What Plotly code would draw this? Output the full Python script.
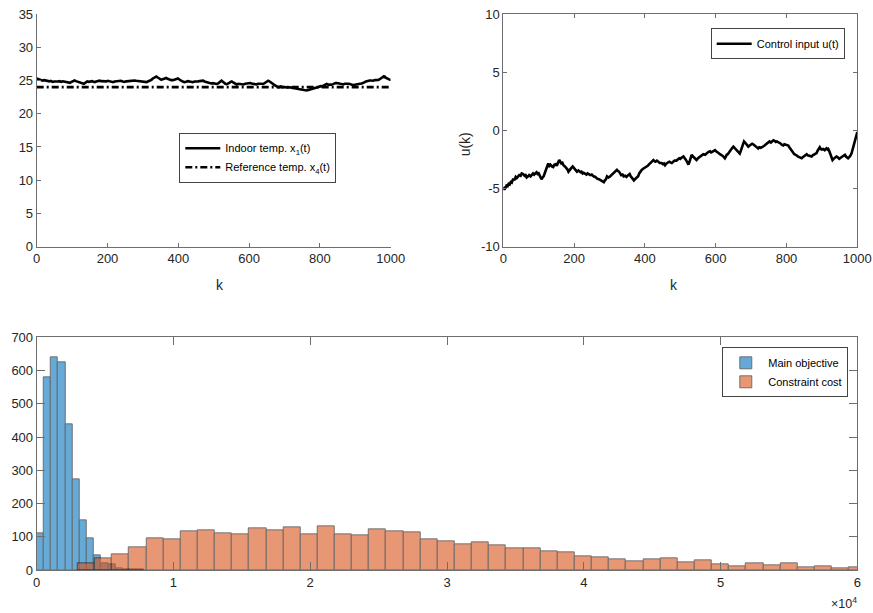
import plotly.graph_objects as go

# ---------------- data ----------------
k_temp = [0,4,8,12,17,21,26,31,36,40,45,50,55,60,64,69,74,79,84,89,94,97,100,104,107,111,114,118,122,126,
          129,133,136,140,143,147,150,154,157,161,164,168,171,175,178,182,187,192,197,201,206,211,216,220,225,
          229,234,238,243,248,253,257,262,267,272,276,281,286,291,295,300,305,310,314,317,321,324,328,331,335,
          338,342,345,349,352,356,359,363,366,370,375,380,385,389,392,396,399,403,406,410,413,417,422,427,432,
          436,441,446,451,455,460,465,470,474,479,484,489,493,498,503,508,512,515,519,522,526,530,533,537,540,
          544,548,551,555,558,562,565,570,575,580,584,589,594,598,603,607,612,616,621,625,630,635,640,644,647,
          651,654,658,661,665,668,672,676,680,683,687,690,694,697,701,706,711,716,720,725,730,735,740,746,752,
          758,762,765,769,772,777,782,786,791,795,798,802,805,809,812,816,819,823,826,830,833,837,840,844,848,
          852,857,861,866,870,875,880,885,889,894,899,904,908,913,918,923,927,930,934,937,941,944,948,951,955,
          958,962,965,968,970,973,975,978,980,982,984,987,990,993,995,998,1000]
indoor_temp = [25.3,25.2,25.15,25.05,24.97,25.05,25.0,24.9,24.87,24.95,24.8,24.85,24.8,24.85,24.9,24.8,24.87,24.8,24.75,24.7,
               24.65,24.75,24.85,24.95,25.0,24.9,24.85,24.8,24.75,24.6,24.55,24.5,24.6,24.75,24.85,24.8,24.85,24.95,24.9,24.8,
               24.75,24.85,24.9,25.0,24.97,24.9,24.9,24.8,24.87,24.95,24.85,24.8,24.75,24.85,24.9,24.95,25.0,24.95,24.85,24.8,
               24.87,24.9,24.95,25.0,25.07,25.0,24.95,24.9,24.87,24.8,24.8,24.7,24.75,24.85,24.9,25.0,25.1,25.3,25.4,25.55,
               25.6,25.45,25.3,25.2,25.1,25.2,25.25,25.3,25.37,25.25,25.1,25.05,25.05,25.15,25.2,25.3,25.3,25.15,25.0,24.9,
               24.85,24.75,24.8,24.9,24.85,24.8,24.75,24.85,24.8,24.85,24.9,24.95,24.97,24.85,24.75,24.7,24.65,24.55,24.6,24.5,
               24.47,24.55,24.7,24.85,24.97,24.8,24.6,24.5,24.45,24.5,24.65,24.8,24.85,24.7,24.6,24.5,24.4,24.5,24.45,24.35,
               24.4,24.5,24.55,24.5,24.62,24.55,24.5,24.45,24.4,24.5,24.55,24.5,24.47,24.6,24.7,24.85,24.97,24.85,24.7,24.55,
               24.47,24.3,24.2,24.05,23.97,24.05,24.1,24.0,24.05,24.0,23.95,24.0,23.97,23.9,23.85,23.8,23.77,23.7,23.6,23.5,
               23.45,23.5,23.55,23.6,23.62,23.75,23.85,23.9,23.97,24.0,24.05,24.15,24.1,24.2,24.3,24.4,24.47,24.4,24.35,24.4,
               24.37,24.45,24.55,24.6,24.62,24.55,24.45,24.4,24.4,24.5,24.55,24.5,24.47,24.4,24.3,24.35,24.37,24.45,24.5,24.55,
               24.62,24.75,24.85,24.95,24.97,25.0,25.0,24.95,24.97,25.05,25.05,25.0,25.07,25.15,25.25,25.35,25.47,25.55,25.6,25.5,
               25.55,25.4,25.3,25.2,25.15,25.1,25.1]
k_ref = [0, 1000]
ref_temp = [24, 24]

k_u = [0,3,6,9,12,15,18,21,24,28,31,35,38,42,45,49,52,56,60,63,66,70,73,77,80,84,87,91,94,97,100,104,108,111,114,
       118,121,124,127,130,133,137,141,144,148,151,155,158,161,164,167,170,174,177,181,184,187,190,193,196,199,202,
       205,208,212,215,218,221,224,227,231,235,238,242,246,250,255,260,265,270,275,279,284,287,290,293,297,300,304,
       307,311,314,318,321,324,327,330,333,337,340,344,348,351,354,357,360,363,366,369,372,375,378,381,384,388,391,
       395,398,402,405,408,411,414,418,421,424,427,430,434,438,442,447,451,454,457,461,465,469,472,476,480,484,489,
       493,497,500,503,506,509,512,515,519,523,526,528,530,532,536,540,543,546,550,555,560,565,570,575,580,584,587,
       590,594,598,601,605,608,612,616,620,623,626,629,631,634,636,640,643,647,650,653,657,660,664,668,671,673,677,
       680,683,686,689,692,696,700,703,706,710,713,716,720,723,727,731,735,738,742,746,749,752,756,759,763,766,770,
       773,777,780,784,787,791,794,798,801,805,808,812,815,819,822,826,829,833,836,840,843,846,850,853,857,860,864,
       867,871,874,878,881,885,888,891,894,897,900,904,908,911,913,916,918,921,924,927,930,933,935,938,941,944,946,
       949,951,955,958,962,965,968,970,974,977,980,984,987,990,993,996,998,1000]
u_vals = [-4.85,-5.1,-4.95,-4.75,-4.8,-4.6,-4.65,-4.45,-4.5,-4.15,-4.3,-4.0,-4.1,-3.95,-3.85,-3.9,-3.7,-3.75,-3.9,-3.85,
          -4.05,-3.95,-3.85,-3.95,-3.8,-3.7,-3.8,-3.65,-3.6,-3.75,-3.7,-3.95,-4.2,-4.05,-3.95,-3.6,-3.4,-3.1,-2.85,-3.05,
          -2.95,-3.1,-3.15,-2.95,-2.9,-3.05,-2.75,-2.55,-2.7,-2.85,-2.8,-3.0,-3.1,-3.2,-3.35,-3.55,-3.4,-3.3,-3.2,-3.1,
          -3.2,-3.3,-3.45,-3.55,-3.45,-3.55,-3.6,-3.55,-3.7,-3.65,-3.75,-3.8,-3.7,-3.75,-3.85,-3.8,-3.95,-4.0,-4.15,-4.2,
          -4.3,-4.35,-4.45,-4.3,-4.2,-3.95,-4.05,-4.0,-3.9,-3.8,-3.7,-3.6,-3.5,-3.4,-3.5,-3.55,-3.7,-3.85,-3.8,-3.95,
          -3.9,-4.0,-3.9,-3.85,-3.75,-3.95,-4.1,-4.2,-4.3,-4.2,-4.1,-4.05,-3.95,-3.7,-3.5,-3.4,-3.3,-3.25,-3.2,-3.1,
          -3.05,-2.95,-2.85,-2.7,-2.6,-2.55,-2.65,-2.7,-2.6,-2.7,-2.8,-2.8,-2.9,-2.85,-3.0,-2.85,-2.8,-2.7,-2.75,-2.8,
          -2.7,-2.6,-2.6,-2.5,-2.4,-2.45,-2.35,-2.3,-2.25,-2.35,-2.5,-2.7,-2.95,-2.7,-2.4,-2.2,-2.1,-2.25,-2.35,-2.45,
          -2.55,-2.4,-2.3,-2.15,-2.05,-2.1,-1.95,-1.85,-1.8,-1.9,-1.85,-1.75,-1.7,-1.8,-1.85,-1.95,-2.05,-2.1,-2.2,-2.3,
          -2.4,-2.25,-2.1,-2.05,-1.95,-1.8,-1.7,-1.5,-1.4,-1.5,-1.6,-1.7,-1.85,-2.0,-1.75,-1.55,-1.2,-0.95,-1.05,-1.2,
          -1.3,-1.4,-1.3,-1.25,-1.15,-1.2,-1.3,-1.4,-1.5,-1.55,-1.45,-1.5,-1.45,-1.4,-1.3,-1.2,-1.1,-1.0,-0.95,-1.05,
          -0.95,-0.85,-0.9,-1.0,-0.95,-1.0,-1.1,-1.15,-1.25,-1.3,-1.2,-1.25,-1.3,-1.3,-1.45,-1.6,-1.8,-1.95,-2.05,-2.1,
          -2.2,-2.25,-2.3,-2.35,-2.4,-2.3,-2.2,-2.1,-2.05,-2.15,-2.2,-2.25,-2.25,-2.15,-2.1,-2.0,-1.95,-1.75,-1.55,-1.45,
          -1.6,-1.65,-1.6,-1.7,-1.6,-1.55,-1.65,-1.6,-1.8,-2.0,-2.3,-2.55,-2.45,-2.4,-2.35,-2.25,-2.3,-2.35,-2.45,-2.4,
          -2.3,-2.2,-2.15,-2.1,-2.25,-2.3,-2.4,-2.3,-2.2,-1.95,-1.6,-1.2,-0.85,-0.55,-0.35,-0.15]

main_bin_start = 0
main_bin_width = 523
main_counts = [110, 580, 641, 626, 438, 272, 150, 94, 43, 19, 16, 5, 1, 2, 2]

cons_bin_start = 3000
cons_bin_width = 1253
cons_counts = [19, 36, 47, 68, 95, 93, 116, 119, 110, 108, 124, 118, 128, 107, 130, 106, 104, 122, 115, 113,
               92, 85, 77, 84, 73, 64, 64, 56, 54, 42, 37, 32, 25, 32, 35, 23, 30, 17, 10, 20,
               14, 19, 7, 10, 6, 7]

temp_ticks = [0, 5, 10, 15, 20, 25, 30, 35]
u_ticks = [-10, -5, 0, 5, 10]
k_ticks = [0, 200, 400, 600, 800, 1000]
hist_x_ticks = [0, 10000, 20000, 30000, 40000, 50000, 60000]
hist_x_labels = ["0", "1", "2", "3", "4", "5", "6"]
hist_y_ticks = [0, 100, 200, 300, 400, 500, 600, 700]

# ---------------- figure ----------------
FONT = "Liberation Sans, Arial, Helvetica, sans-serif"
TXT = "#262626"
LINE = "#6e6e6e"

main_left = [main_bin_start + i * main_bin_width for i in range(len(main_counts))]
cons_left = [cons_bin_start + i * cons_bin_width for i in range(len(cons_counts))]

fig = go.Figure()

fig.add_trace(go.Scatter(x=k_temp, y=indoor_temp, mode="lines",
                         line=dict(color="black", width=2.6),
                         name="Indoor temp. x<sub>1</sub>(t)", xaxis="x", yaxis="y", legend="legend"))
fig.add_trace(go.Scatter(x=k_ref, y=ref_temp, mode="lines",
                         line=dict(color="black", width=2.6, dash="7px,3px,2px,3px"),
                         name="Reference temp. x<sub>4</sub>(t)", xaxis="x", yaxis="y", legend="legend"))
fig.add_trace(go.Scatter(x=k_u, y=u_vals, mode="lines",
                         line=dict(color="black", width=2.6),
                         name="Control input u(t)", xaxis="x2", yaxis="y2", legend="legend2"))
fig.add_trace(go.Bar(x=main_left, y=main_counts, width=main_bin_width, offset=0,
                     marker=dict(color="rgb(0,114,189)", line=dict(color="black", width=0.9)),
                     opacity=0.6, name="Main objective", xaxis="x3", yaxis="y3", legend="legend3"))
fig.add_trace(go.Bar(x=cons_left, y=cons_counts, width=cons_bin_width, offset=0,
                     marker=dict(color="rgb(217,83,25)", line=dict(color="black", width=0.9)),
                     opacity=0.6, name="Constraint cost", xaxis="x3", yaxis="y3", legend="legend3"))

# positions given in the reference's 873x613 pixel frame, converted to paper fractions
W, H = 873, 613
def px_x(a, b):
    return [a / W, b / W]
def px_y(top, bottom):
    return [1 - bottom / H, 1 - top / H]
def pos_x(a):
    return a / W
def pos_y(a):
    return 1 - a / H

common = dict(showgrid=False, zeroline=False, showline=True, linecolor=LINE, linewidth=1,
              automargin=False,
              ticks="inside", tickcolor=LINE, tickfont=dict(family=FONT, size=13, color=TXT))

leg_common = dict(xanchor="left", yanchor="top", bgcolor="white", bordercolor="#444", borderwidth=1,
                  font=dict(family=FONT, size=11, color="black"), itemwidth=35)

fig.update_layout(
    width=W, height=H,
    margin=dict(l=0, r=0, t=0, b=0, pad=0, autoexpand=False),
    paper_bgcolor="white", plot_bgcolor="white",
    barmode="overlay", bargap=0,
    font=dict(family=FONT, color=TXT),
    xaxis=dict(domain=px_x(36.7, 390.7), range=[0, 1000], anchor="y", tickvals=k_ticks,
               ticklen=4, mirror=False, **common),
    yaxis=dict(domain=px_y(14, 246.7), range=[0, 35], anchor="x", tickvals=temp_ticks,
               ticklen=4, mirror=False, **common),
    xaxis2=dict(domain=px_x(503.3, 857.3), range=[0, 1000], anchor="y2", tickvals=k_ticks,
                ticklen=4, mirror="ticks", **common),
    yaxis2=dict(domain=px_y(14, 246.7), range=[-10, 10], anchor="x2", tickvals=u_ticks,
                ticktext=[str(v) for v in u_ticks], ticklen=4, mirror="ticks", **common),
    xaxis3=dict(domain=px_x(36.7, 857.3), range=[0, 60000], anchor="y3", tickvals=hist_x_ticks,
                ticktext=hist_x_labels, ticklen=8, mirror="ticks", **common),
    yaxis3=dict(domain=px_y(337.3, 570), range=[0, 700], anchor="x3", tickvals=hist_y_ticks,
                ticklen=8, mirror="ticks", **common),
    legend=dict(x=pos_x(179.3), y=pos_y(132.7), tracegroupgap=2, **leg_common),
    legend2=dict(x=pos_x(710.7), y=pos_y(28.3), **leg_common),
    legend3=dict(x=pos_x(722.3), y=pos_y(347.3), **leg_common),
    annotations=[
        dict(text="k", x=pos_x(213.7), y=pos_y(285), xref="paper", yref="paper",
             showarrow=False, font=dict(family=FONT, size=14, color=TXT)),
        dict(text="k", x=pos_x(680.3), y=pos_y(285), xref="paper", yref="paper",
             showarrow=False, font=dict(family=FONT, size=14, color=TXT)),
        dict(text="u(k)", x=pos_x(465), y=pos_y(130.35), xref="paper", yref="paper",
             showarrow=False, textangle=-90, font=dict(family=FONT, size=14, color=TXT)),
        dict(text="×10<sup>4</sup>", x=pos_x(859), y=pos_y(613), xref="paper", yref="paper",
             xanchor="right", yanchor="bottom", showarrow=False,
             font=dict(family=FONT, size=12.5, color=TXT)),
    ],
)

fig.write_html(
    "out.html",
    config={"displayModeBar": False},
    post_script="document.body.style.margin='0px';",
)
